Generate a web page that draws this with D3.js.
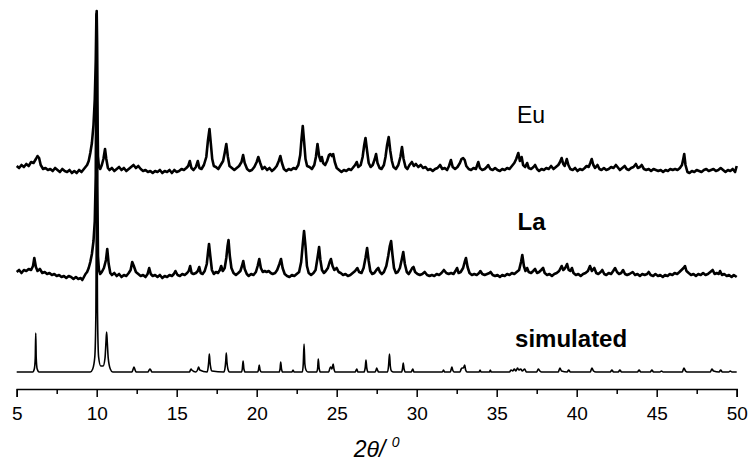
<!DOCTYPE html>
<html>
  <head>
    <meta http-equiv="Content-Type" content="text/html;charset=utf-8">
    <title>XRD patterns</title>
    <script type="text/javascript" src="https://d3js.org/d3.v7.min.js"></script>
    <style>
      html, body { margin: 0; padding: 0; background: #fff; }
      text { font-family: "Liberation Sans", Arial, sans-serif; fill: #000; }
      path.trace { fill: none; stroke: #000; stroke-linejoin: round; }
      .axis path, .axis line { fill: none; stroke: #000; stroke-width: 1.5px; }
      .axis text { font-size: 19px; }
    </style>
  </head>
  <body>
<script type="text/javascript">

// 2theta ticks
var majorTicks = [5, 10, 15, 20, 25, 30, 35, 40, 45, 50];
var minorTicks = [7.5, 12.5, 17.5, 22.5, 27.5, 32.5, 37.5, 42.5, 47.5];

// vertical offset of each pattern (a.u.)
var offsets = { Eu: 201, La: 96, simulated: 0 };

// [2theta, intensity above own baseline]
var euData = [[5.0,5],[5.15,3],[5.3,6],[5.45,4],[5.6,7],[5.75,5],[5.9,9],[6.05,8],[6.2,12],[6.3,15],[6.4,13],[6.5,6],[6.65,2],[6.8,3],[6.95,1],[7.1,2],[7.25,0],[7.4,3],[7.55,1],[7.7,-1],[7.85,2],[8.0,0],[8.15,-1],[8.3,1],[8.45,-2],[8.6,0],[8.75,-2],[8.9,1],[9.05,-1],[9.2,2],[9.3,4],[9.4,6],[9.5,10],[9.6,18],[9.7,28],[9.8,46],[9.88,72],[9.94,110],[9.98,155],[10.0,160],[10.02,130],[10.04,70],[10.08,15],[10.14,4],[10.22,2],[10.32,6],[10.42,12],[10.52,22],[10.6,12],[10.7,3],[10.8,1],[10.95,3],[11.1,0],[11.25,2],[11.4,4],[11.55,1],[11.7,3],[11.85,0],[12.0,2],[12.15,4],[12.3,6],[12.45,3],[12.6,5],[12.75,2],[12.9,0],[13.05,1],[13.2,-1],[13.35,0],[13.5,-2],[13.65,0],[13.8,-1],[13.95,1],[14.1,-2],[14.25,0],[14.4,-1],[14.55,1],[14.7,-2],[14.85,1],[15.0,-1],[15.15,0],[15.3,2],[15.45,1],[15.6,3],[15.72,5],[15.82,10],[15.92,3],[16.05,1],[16.2,4],[16.32,10],[16.42,3],[16.55,2],[16.7,6],[16.85,14],[16.95,30],[17.05,42],[17.13,28],[17.22,12],[17.32,5],[17.45,4],[17.6,2],[17.75,6],[17.9,10],[18.0,18],[18.1,27],[18.2,14],[18.3,5],[18.45,3],[18.6,1],[18.75,3],[18.9,5],[19.05,9],[19.15,16],[19.25,8],[19.4,2],[19.55,0],[19.7,1],[19.85,4],[20.0,9],[20.1,14],[20.22,8],[20.35,2],[20.5,4],[20.65,1],[20.8,3],[20.95,0],[21.1,2],[21.25,5],[21.38,10],[21.48,15],[21.58,8],[21.7,2],[21.85,0],[22.0,2],[22.15,1],[22.3,3],[22.45,2],[22.6,6],[22.72,16],[22.8,32],[22.88,45],[22.96,30],[23.05,12],[23.15,5],[23.3,4],[23.45,2],[23.6,6],[23.7,14],[23.8,27],[23.9,15],[24.0,10],[24.07,14],[24.15,8],[24.28,6],[24.4,10],[24.52,16],[24.6,17],[24.7,15],[24.78,17],[24.88,9],[25.0,3],[25.15,1],[25.3,-1],[25.45,1],[25.6,0],[25.75,2],[25.9,1],[26.05,4],[26.15,6],[26.25,9],[26.35,4],[26.5,6],[26.62,14],[26.72,26],[26.8,33],[26.9,20],[27.0,8],[27.12,4],[27.25,6],[27.38,12],[27.46,17],[27.55,8],[27.68,3],[27.8,2],[27.95,6],[28.05,14],[28.15,26],[28.25,34],[28.35,20],[28.45,10],[28.55,4],[28.7,2],[28.85,6],[28.98,14],[29.08,24],[29.18,12],[29.3,4],[29.42,2],[29.55,6],[29.7,9],[29.82,5],[29.95,7],[30.1,4],[30.25,6],[30.4,3],[30.55,4],[30.7,1],[30.85,2],[31.0,0],[31.15,2],[31.3,3],[31.46,6],[31.6,2],[31.75,3],[31.9,1],[32.02,5],[32.14,11],[32.25,4],[32.4,2],[32.55,4],[32.7,8],[32.8,12],[32.9,13],[33.0,11],[33.1,5],[33.25,2],[33.4,1],[33.55,3],[33.7,2],[33.85,9],[33.95,3],[34.1,1],[34.25,2],[34.38,4],[34.47,6],[34.6,2],[34.75,1],[34.9,3],[35.05,1],[35.2,0],[35.35,2],[35.5,1],[35.65,3],[35.8,2],[35.95,5],[36.1,8],[36.22,12],[36.35,18],[36.45,10],[36.56,14],[36.65,6],[36.78,4],[36.9,8],[37.0,3],[37.15,2],[37.3,4],[37.4,6],[37.52,2],[37.65,0],[37.8,2],[37.95,1],[38.1,3],[38.25,2],[38.4,5],[38.55,2],[38.7,4],[38.85,6],[38.96,9],[39.06,13],[39.16,7],[39.25,5],[39.38,12],[39.48,6],[39.6,2],[39.75,1],[39.9,3],[40.05,0],[40.2,2],[40.35,1],[40.5,3],[40.62,5],[40.75,4],[40.85,8],[40.94,12],[41.04,6],[41.15,3],[41.3,6],[41.42,2],[41.55,1],[41.7,3],[41.85,1],[42.0,2],[42.15,4],[42.3,3],[42.45,6],[42.55,4],[42.7,1],[42.85,3],[43.0,5],[43.12,2],[43.25,1],[43.4,3],[43.55,4],[43.7,7],[43.82,3],[43.95,4],[44.06,6],[44.2,2],[44.35,1],[44.5,2],[44.65,0],[44.8,2],[44.95,1],[45.1,0],[45.25,1],[45.4,-1],[45.55,1],[45.7,0],[45.85,2],[46.0,1],[46.15,2],[46.3,1],[46.45,3],[46.58,6],[46.66,12],[46.72,17],[46.8,6],[46.92,-1],[47.05,-2],[47.2,0],[47.35,-1],[47.5,1],[47.65,0],[47.8,-1],[47.95,1],[48.1,2],[48.25,0],[48.4,1],[48.55,2],[48.7,0],[48.85,1],[49.0,3],[49.15,1],[49.3,-1],[49.45,1],[49.6,0],[49.75,2],[49.9,-1],[50.0,5]];

var laData = [[5.0,4],[5.15,6],[5.3,3],[5.45,6],[5.6,5],[5.75,7],[5.9,6],[6.02,10],[6.1,18],[6.2,9],[6.3,5],[6.45,7],[6.6,3],[6.75,4],[6.9,2],[7.05,3],[7.2,1],[7.35,2],[7.5,0],[7.65,1],[7.8,-1],[7.95,0],[8.1,-2],[8.25,0],[8.4,-1],[8.55,-3],[8.7,-1],[8.85,-3],[9.0,-2],[9.1,-4],[9.2,-1],[9.3,2],[9.4,4],[9.5,8],[9.6,14],[9.7,22],[9.8,35],[9.88,55],[9.94,100],[9.98,220],[10.0,262],[10.02,200],[10.04,90],[10.08,20],[10.14,6],[10.22,2],[10.32,4],[10.45,8],[10.58,16],[10.66,27],[10.75,12],[10.85,3],[10.95,1],[11.1,3],[11.25,0],[11.4,2],[11.55,-1],[11.7,1],[11.85,0],[12.0,3],[12.12,6],[12.22,14],[12.32,10],[12.45,4],[12.6,2],[12.75,0],[12.9,1],[13.05,-1],[13.18,2],[13.28,8],[13.38,2],[13.5,0],[13.65,1],[13.8,-1],[13.95,1],[14.1,-2],[14.25,0],[14.4,-1],[14.55,1],[14.7,0],[14.82,2],[14.92,5],[15.05,1],[15.2,0],[15.35,2],[15.5,1],[15.65,3],[15.75,5],[15.84,10],[15.93,3],[16.05,2],[16.2,3],[16.32,5],[16.41,9],[16.5,3],[16.62,2],[16.75,5],[16.88,12],[16.96,24],[17.02,32],[17.1,20],[17.2,6],[17.32,2],[17.45,4],[17.58,3],[17.7,6],[17.78,10],[17.88,5],[18.0,8],[18.1,18],[18.18,30],[18.24,36],[18.32,20],[18.42,8],[18.55,3],[18.7,1],[18.85,3],[18.98,5],[19.08,10],[19.16,15],[19.25,7],[19.38,2],[19.5,0],[19.65,2],[19.8,1],[19.95,4],[20.06,10],[20.16,17],[20.26,8],[20.38,4],[20.5,5],[20.62,4],[20.75,5],[20.88,3],[21.0,2],[21.15,3],[21.28,6],[21.42,12],[21.52,17],[21.62,8],[21.75,2],[21.9,0],[22.05,-1],[22.2,1],[22.35,0],[22.5,2],[22.65,4],[22.78,14],[22.88,32],[22.96,45],[23.05,30],[23.14,10],[23.25,3],[23.4,1],[23.55,3],[23.68,6],[23.8,18],[23.9,29],[23.98,16],[24.08,6],[24.2,3],[24.32,5],[24.45,8],[24.56,14],[24.64,17],[24.74,10],[24.85,6],[25.0,8],[25.12,4],[25.25,3],[25.4,1],[25.55,2],[25.7,0],[25.85,1],[26.0,3],[26.15,5],[26.29,8],[26.4,4],[26.55,3],[26.68,8],[26.8,18],[26.9,28],[27.0,15],[27.1,5],[27.22,2],[27.35,3],[27.48,6],[27.6,8],[27.7,4],[27.82,2],[27.95,4],[28.1,10],[28.22,20],[28.32,30],[28.4,35],[28.48,22],[28.58,8],[28.7,3],[28.82,4],[28.95,8],[29.06,16],[29.16,24],[29.26,12],[29.38,4],[29.5,2],[29.62,5],[29.72,8],[29.8,9],[29.9,4],[30.05,2],[30.2,1],[30.35,2],[30.5,4],[30.65,1],[30.8,0],[30.95,1],[31.1,0],[31.25,2],[31.4,1],[31.55,3],[31.7,6],[31.85,3],[32.0,2],[32.15,3],[32.3,2],[32.42,5],[32.52,8],[32.62,3],[32.75,4],[32.9,8],[33.0,14],[33.08,18],[33.18,9],[33.3,3],[33.45,1],[33.6,2],[33.75,1],[33.9,3],[33.98,5],[34.1,2],[34.25,1],[34.4,2],[34.55,3],[34.62,4],[34.75,1],[34.9,0],[35.05,1],[35.2,-1],[35.35,1],[35.5,0],[35.65,2],[35.8,1],[35.95,3],[36.1,2],[36.25,4],[36.4,6],[36.52,14],[36.6,21],[36.7,10],[36.8,5],[36.9,8],[37.0,4],[37.15,3],[37.28,5],[37.4,7],[37.52,3],[37.65,4],[37.78,6],[37.9,8],[38.0,3],[38.15,1],[38.3,2],[38.45,0],[38.6,2],[38.75,3],[38.9,5],[39.06,10],[39.16,6],[39.28,8],[39.4,12],[39.5,6],[39.6,5],[39.7,8],[39.8,3],[39.95,1],[40.1,2],[40.25,0],[40.4,2],[40.55,3],[40.7,5],[40.83,10],[40.95,5],[41.1,8],[41.22,3],[41.35,2],[41.5,4],[41.6,6],[41.72,2],[41.85,1],[42.0,3],[42.15,2],[42.28,5],[42.4,8],[42.52,4],[42.65,2],[42.78,3],[42.9,6],[43.02,2],[43.15,1],[43.3,2],[43.5,4],[43.65,1],[43.8,2],[43.95,0],[44.1,2],[44.25,1],[44.4,2],[44.5,4],[44.62,1],[44.78,0],[44.92,2],[45.08,0],[45.22,1],[45.38,-1],[45.52,1],[45.68,0],[45.82,2],[45.98,1],[46.12,3],[46.28,2],[46.42,4],[46.55,6],[46.68,8],[46.77,10],[46.86,5],[47.0,3],[47.15,1],[47.3,2],[47.45,0],[47.6,2],[47.75,1],[47.9,3],[48.05,1],[48.2,2],[48.35,4],[48.5,6],[48.62,2],[48.75,3],[48.88,2],[48.96,5],[49.08,1],[49.22,2],[49.38,0],[49.52,1],[49.68,-1],[49.82,1],[50.0,-1]];

var simData = [[5.0,0],[6.0,0],[6.1,3],[6.16,14],[6.19,39],[6.22,14],[6.28,3],[6.4,0],[9.6,0],[9.75,3],[9.88,15],[9.95,60],[9.98,160],[10.0,358],[10.02,160],[10.05,60],[10.12,15],[10.25,6],[10.4,6],[10.52,14],[10.58,30],[10.62,40],[10.66,30],[10.72,14],[10.85,3],[11.0,0],[12.2,0],[12.28,3],[12.33,5],[12.38,3],[12.46,0],[13.2,0],[13.28,2],[13.33,3],[13.38,2],[13.45,0],[15.8,0],[15.86,2],[15.9,3],[15.94,2],[16.2,0],[16.3,2],[16.37,5],[16.44,2],[16.9,0],[16.96,4],[17.0,10],[17.04,18],[17.08,10],[17.13,4],[17.2,1],[17.95,0],[18.02,4],[18.07,12],[18.1,19],[18.14,10],[18.2,3],[18.3,0],[19.05,0],[19.1,3],[19.15,11],[19.2,3],[19.28,0],[20.05,0],[20.11,2],[20.16,7],[20.21,2],[20.3,0],[21.4,0],[21.46,3],[21.5,10],[21.55,3],[21.62,0],[22.2,0],[22.27,2],[22.34,0],[22.85,0],[22.91,8],[22.96,28],[23.01,8],[23.08,2],[23.2,0],[23.75,0],[23.81,4],[23.85,13],[23.9,4],[23.98,0],[24.5,0],[24.58,4],[24.63,5],[24.7,3],[24.78,8],[24.83,3],[24.92,0],[26.15,0],[26.22,2],[26.26,3],[26.32,0],[26.7,0],[26.78,4],[26.83,12],[26.88,4],[26.96,0],[27.4,0],[27.46,2],[27.5,4],[27.55,2],[27.62,0],[28.18,0],[28.24,6],[28.3,18],[28.35,6],[28.42,1],[28.55,0],[29.05,0],[29.11,3],[29.16,9],[29.21,3],[29.3,0],[29.65,0],[29.72,2],[29.76,3],[29.82,0],[31.6,0],[31.68,2],[31.74,0],[32.1,0],[32.16,3],[32.2,5],[32.25,2],[32.35,0],[32.7,0],[32.78,3],[32.84,4],[32.92,4],[33.0,7],[33.06,2],[33.15,0],[33.9,0],[33.96,2],[34.02,0],[34.55,0],[34.6,2],[34.66,0],[35.8,0],[35.9,2],[36.0,1],[36.1,3],[36.2,1],[36.3,4],[36.38,2],[36.5,3],[36.6,1],[36.75,3],[36.85,0],[37.5,0],[37.6,3],[37.7,1],[37.8,0],[38.85,0],[38.95,4],[39.05,1],[39.4,0],[39.5,2],[39.6,0],[40.85,0],[40.95,4],[41.05,1],[41.2,0],[42.1,0],[42.2,2],[42.3,0],[42.6,0],[42.7,2],[42.8,0],[43.8,0],[43.9,2],[44.0,0],[44.6,0],[44.7,2],[44.8,0],[45.2,0],[45.3,1],[45.4,0],[46.6,0],[46.7,4],[46.8,1],[46.9,0],[48.35,0],[48.45,3],[48.55,1],[48.9,0],[49.0,2],[49.1,0],[49.5,0],[49.6,1],[49.7,0],[50.0,0]];

// pattern labels, placed in data units
var labels = [
  { text: "Eu", x: 36.27, y: 249, weight: "normal", size: 23 },
  { text: "La", x: 36.3, y: 142, weight: "bold", size: 24 },
  { text: "simulated", x: 36.15, y: 25, weight: "bold", size: 24 }
];

var width = 749, height = 466;

var x = d3.scaleLinear().domain([5, 50]).range([16.7, 736.7]);
var y = d3.scaleLinear().domain([-17, 358]).range([389, 14]);

var svg = d3.select("body").append("svg")
    .attr("width", width)
    .attr("height", height);

function drawTrace(data, offset, sw, curve) {
  var line = d3.line()
      .x(function(d) { return x(d[0]); })
      .y(function(d) { return y(d[1] + offset); })
      .curve(curve);
  svg.append("path")
      .attr("class", "trace")
      .attr("stroke-width", sw)
      .attr("d", line(data));
}

drawTrace(simData, offsets.simulated, 1.6, d3.curveMonotoneX);
drawTrace(laData, offsets.La, 2.6, d3.curveLinear);
drawTrace(euData, offsets.Eu, 2.6, d3.curveLinear);

// x axis: minor then major ticks
svg.append("g")
    .attr("class", "axis minor")
    .attr("transform", "translate(0," + y(-17) + ")")
    .call(d3.axisBottom(x).tickValues(minorTicks).tickSize(5).tickFormat(""))
    .select(".domain").remove();

svg.append("g")
    .attr("class", "axis major")
    .attr("transform", "translate(0," + y(-17) + ")")
    .call(d3.axisBottom(x).tickValues(majorTicks).tickSizeOuter(0).tickSize(8).tickPadding(10).tickFormat(d3.format("d")));

svg.selectAll(".axis text").attr("font-family", null);

// axis title
var title = svg.append("text")
    .attr("x", x(27.5))
    .attr("y", 457)
    .attr("text-anchor", "middle")
    .style("font-size", "23px")
    .style("font-style", "italic");
title.append("tspan").text("2θ");
title.append("tspan").text("/ ");
title.append("tspan").attr("dy", -10).style("font-size", "14px").text("0");

// pattern labels
svg.selectAll("text.lbl")
    .data(labels)
  .enter().append("text")
    .attr("class", "lbl")
    .attr("x", function(d) { return x(d.x); })
    .attr("y", function(d) { return y(d.y); })
    .style("font-size", function(d) { return d.size + "px"; })
    .style("font-weight", function(d) { return d.weight; })
    .text(function(d) { return d.text; });

</script>
  </body>
</html>
